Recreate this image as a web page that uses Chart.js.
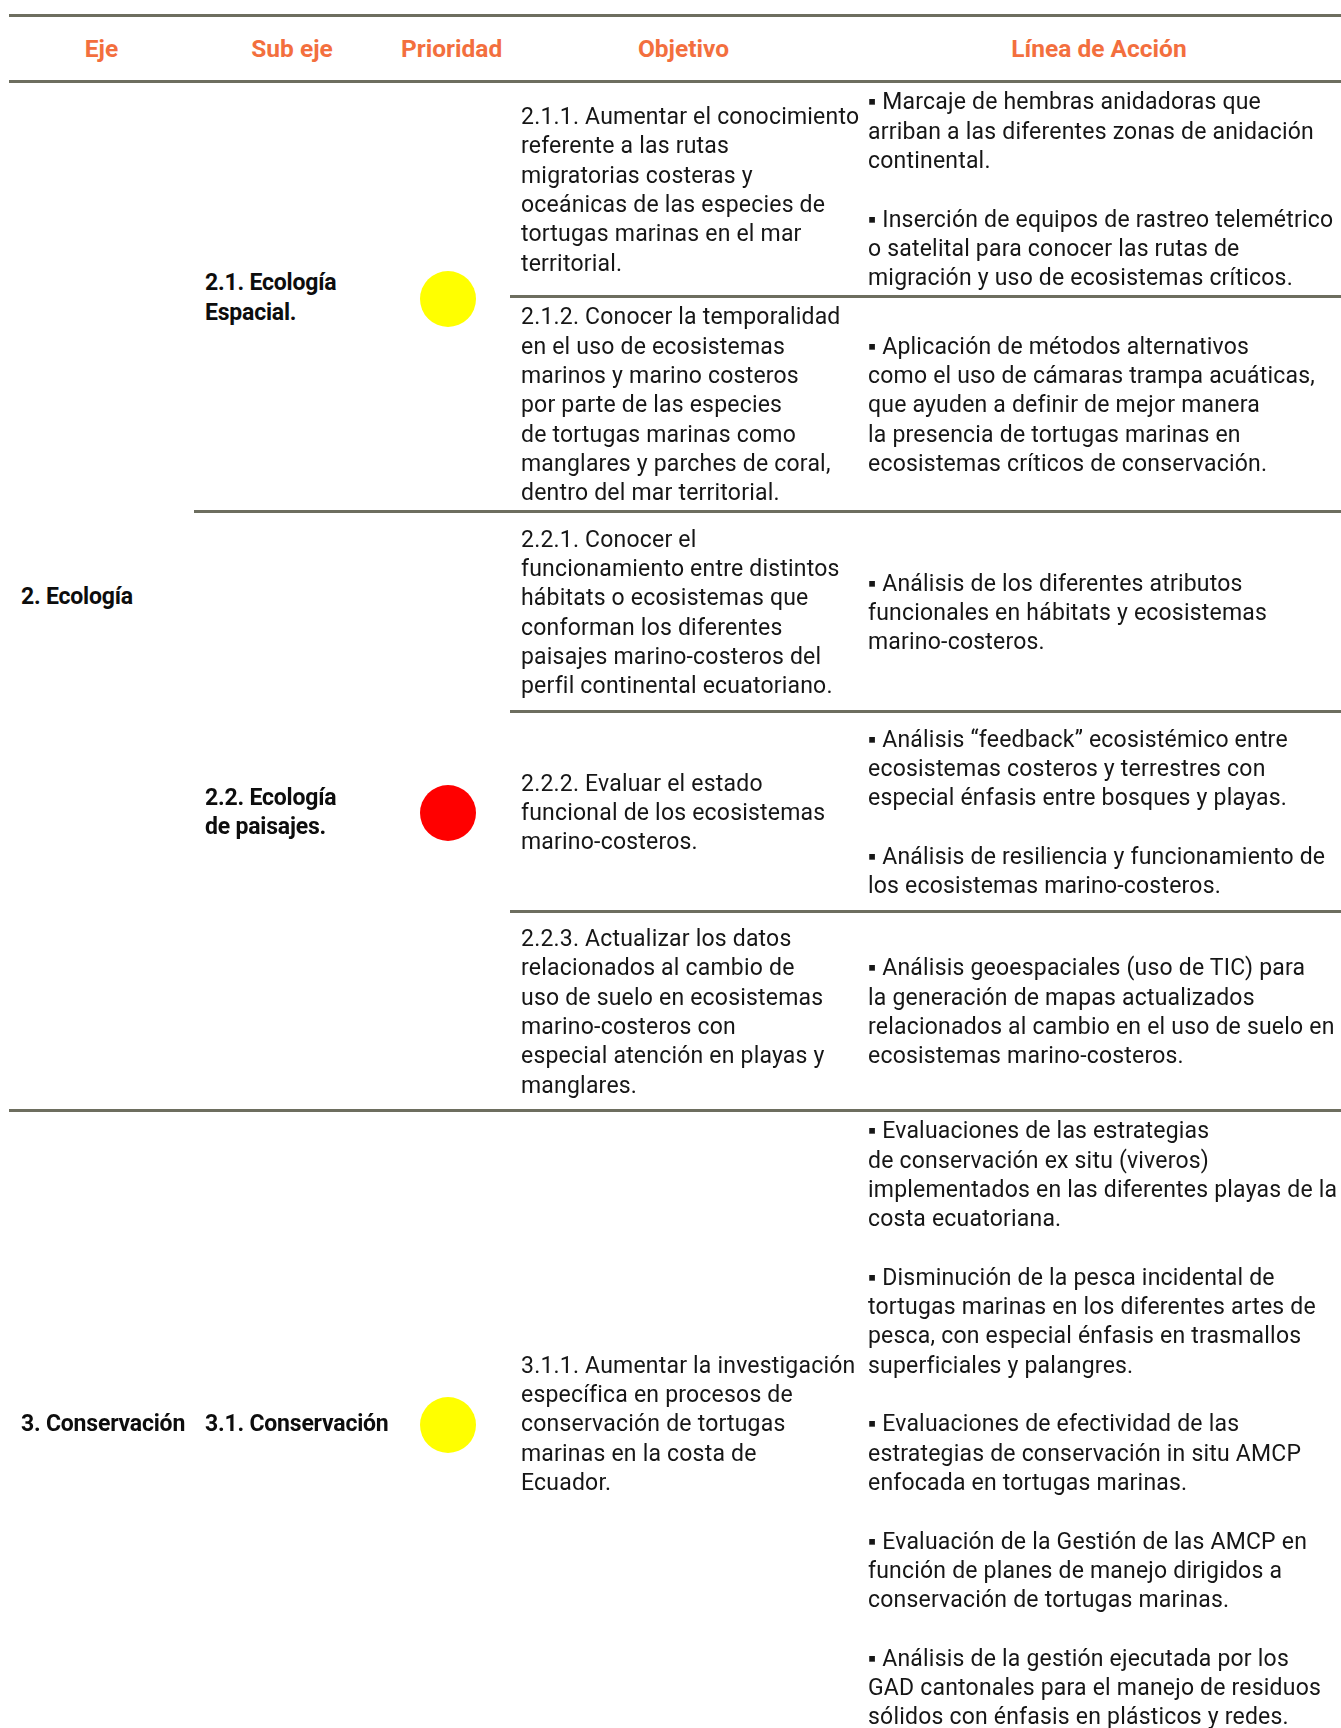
<!DOCTYPE html>
<html lang="es">
<head>
<meta charset="utf-8">
<title>Eje, Sub eje, Prioridad, Objetivo y Línea de Acción</title>
<script src="https://cdn.jsdelivr.net/npm/chart.js@4.4.0/dist/chart.umd.min.js"></script>
<style>
  html, body { margin: 0; padding: 0; background: #fff; overflow: hidden; }
  body { width: 1341px; height: 1728px; position: relative; }
  table {
    position: absolute; left: 9px; top: 14px;
    width: 1332px; table-layout: fixed;
    border-collapse: separate; border-spacing: 0;
    font-family: Roboto, "Noto Sans", sans-serif;
    font-size: 23px; line-height: 29.3px; letter-spacing: 0.2px;
    color: #161616;
  }
  th, td { padding: 2px 11px 0 11px; vertical-align: middle; border-bottom: 3px solid #6d6e5f; }
  th {
    border-top: 3px solid #6d6e5f;
    padding-top: 0;
    color: #f36f3e; font-size: 24.5px; font-weight: 700; text-align: center;
    letter-spacing: 0;
  }
  td { white-space: pre; }
  td.eje { padding-left: 12px; }
  td.eje, td.subeje { font-weight: 700; color: #0d0d0d; letter-spacing: -0.2px; }
  td.prioridad { padding: 4px 13px 0 9px; }
  td.prioridad canvas { display: block; margin: 0 auto; }
  tr.ultima td { border-bottom: none; }
</style>
</head>
<body>
<table id="tabla">
  <colgroup>
    <col style="width:185px"><col style="width:196px"><col style="width:120px"><col style="width:347px"><col style="width:484px">
  </colgroup>
  <thead><tr id="encabezado" style="height:69px"></tr></thead>
  <tbody id="cuerpo"></tbody>
</table>

<script>
const encabezados = ['Eje', 'Sub eje', 'Prioridad', 'Objetivo', 'Línea de Acción'];

const ejes = ['2. Ecología', '3. Conservación'];

const subEjes = ['2.1. Ecología\nEspacial.', '2.2. Ecología\nde paisajes.', '3.1. Conservación'];
const ejeDeSubEje = [0, 0, 1];
const prioridades = ['Media', 'Alta', 'Media'];

const objetivos = [
  '2.1.1. Aumentar el conocimiento\nreferente a las rutas\nmigratorias costeras y\noceánicas de las especies de\ntortugas marinas en el mar\nterritorial.',
  '2.1.2. Conocer la temporalidad\nen el uso de ecosistemas\nmarinos y marino costeros\npor parte de las especies\nde tortugas marinas como\nmanglares y parches de coral,\ndentro del mar territorial.',
  '2.2.1. Conocer el\nfuncionamiento entre distintos\nhábitats o ecosistemas que\nconforman los diferentes\npaisajes marino-costeros del\nperfil continental ecuatoriano.',
  '2.2.2. Evaluar el estado\nfuncional de los ecosistemas\nmarino-costeros.',
  '2.2.3. Actualizar los datos\nrelacionados al cambio de\nuso de suelo en ecosistemas\nmarino-costeros con\nespecial atención en playas y\nmanglares.',
  '3.1.1. Aumentar la investigación\nespecífica en procesos de\nconservación de tortugas\nmarinas en la costa de\nEcuador.'
];
const subEjeDeObjetivo = [0, 0, 1, 1, 1, 2];

const lineasDeAccion = [
  ['Marcaje de hembras anidadoras que\narriban a las diferentes zonas de anidación\ncontinental.',
   'Inserción de equipos de rastreo telemétrico\no satelital para conocer las rutas de\nmigración y uso de ecosistemas críticos.'],
  ['Aplicación de métodos alternativos\ncomo el uso de cámaras trampa acuáticas,\nque ayuden a definir de mejor manera\nla presencia de tortugas marinas en\necosistemas críticos de conservación.'],
  ['Análisis de los diferentes atributos\nfuncionales en hábitats y ecosistemas\nmarino-costeros.'],
  ['Análisis “feedback” ecosistémico entre\necosistemas costeros y terrestres con\nespecial énfasis entre bosques y playas.',
   'Análisis de resiliencia y funcionamiento de\nlos ecosistemas marino-costeros.'],
  ['Análisis geoespaciales (uso de TIC) para\nla generación de mapas actualizados\nrelacionados al cambio en el uso de suelo en\necosistemas marino-costeros.'],
  ['Evaluaciones de las estrategias\nde conservación ex situ (viveros)\nimplementados en las diferentes playas de la\ncosta ecuatoriana.',
   'Disminución de la pesca incidental de\ntortugas marinas en los diferentes artes de\npesca, con especial énfasis en trasmallos\nsuperficiales y palangres.',
   'Evaluaciones de efectividad de las\nestrategias de conservación in situ AMCP\nenfocada en tortugas marinas.',
   'Evaluación de la Gestión de las AMCP en\nfunción de planes de manejo dirigidos a\nconservación de tortugas marinas.',
   'Análisis de la gestión ejecutada por los\nGAD cantonales para el manejo de residuos\nsólidos con énfasis en plásticos y redes.']
];

// layout only
const alturasFila = [215, 215, 200, 200, 199, 622];
const coloresPrioridad = { Alta: '#ff0000', Media: '#ffff00', Baja: '#00b050' };

const encabezado = document.getElementById('encabezado');
encabezados.forEach(texto => {
  const th = document.createElement('th');
  th.textContent = texto;
  encabezado.appendChild(th);
});

function celda(tr, clase, texto, filas) {
  const td = document.createElement('td');
  td.className = clase;
  if (filas > 1) td.rowSpan = filas;
  if (texto !== undefined) td.textContent = texto;
  tr.appendChild(td);
  return td;
}

function dibujarPrioridad(td, nivel) {
  const canvas = document.createElement('canvas');
  canvas.width = 98;
  canvas.height = 70;
  td.appendChild(canvas);
  new Chart(canvas, {
    type: 'scatter',
    data: {
      datasets: [{
        label: nivel,
        data: [{ x: 0, y: 0 }],
        backgroundColor: coloresPrioridad[nivel],
        borderWidth: 0,
        pointRadius: 28,
        pointHoverRadius: 28,
        clip: false
      }]
    },
    options: {
      responsive: false,
      animation: false,
      events: [],
      layout: { padding: 0, autoPadding: false },
      plugins: { legend: { display: false }, tooltip: { enabled: false } },
      scales: {
        x: { display: false, min: -1, max: 1 },
        y: { display: false, min: -1, max: 1 }
      }
    }
  });
}

const cuerpo = document.getElementById('cuerpo');
objetivos.forEach((objetivo, i) => {
  const tr = document.createElement('tr');
  tr.style.height = alturasFila[i] + 'px';
  if (i === objetivos.length - 1) tr.className = 'ultima';

  const s = subEjeDeObjetivo[i];
  const e = ejeDeSubEje[s];

  if (subEjeDeObjetivo.findIndex(x => ejeDeSubEje[x] === e) === i) {
    const n = subEjeDeObjetivo.filter(x => ejeDeSubEje[x] === e).length;
    celda(tr, 'eje', ejes[e], n);
  }
  if (subEjeDeObjetivo.indexOf(s) === i) {
    const n = subEjeDeObjetivo.filter(x => x === s).length;
    celda(tr, 'subeje', subEjes[s], n);
    const td = celda(tr, 'prioridad', undefined, n);
    dibujarPrioridad(td, prioridades[s]);
  }
  celda(tr, 'objetivo', objetivo, 1);
  celda(tr, 'linea', lineasDeAccion[i].map(t => '▪ ' + t).join('\n\n'), 1);

  cuerpo.appendChild(tr);
});
</script>
</body>
</html>
